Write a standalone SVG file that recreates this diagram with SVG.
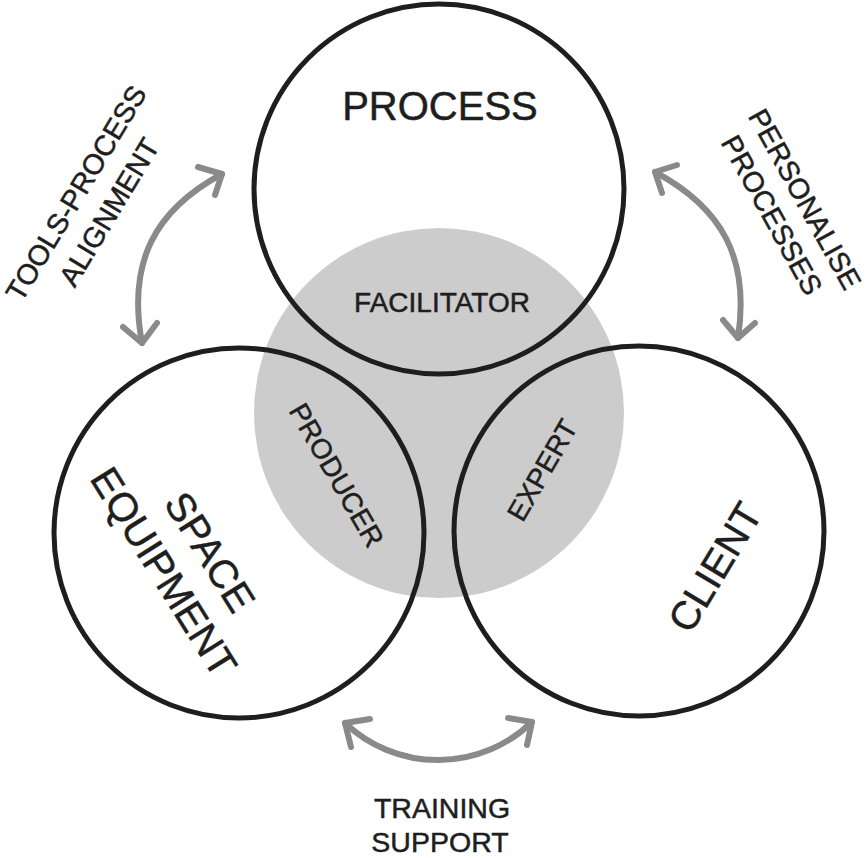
<svg xmlns="http://www.w3.org/2000/svg" width="868" height="858" viewBox="0 0 868 858">
<style>
  .ring { fill: none; stroke: #1e1e1e; stroke-width: 5; }
  .core { fill: #cccccc; }
  .arrow { fill: none; stroke: #8a8a8a; stroke-width: 6; stroke-linecap: round; stroke-linejoin: round; }
  text { font-family: "Liberation Sans", Arial, sans-serif; fill: #1e1e1e; stroke: #1e1e1e; stroke-width: 0.5; text-anchor: middle; }
  .big { font-size: 40px; }
  .mid { font-size: 28.5px; }
  .small { font-size: 28px; }
</style>
<rect width="868" height="858" fill="#ffffff"/>
<g id="core">
  <circle class="core" cx="439" cy="413" r="185"/>
  <text class="small" x="442" y="312">FACILITATOR</text>
  <text class="small" transform="translate(337,475) rotate(60)" x="0" y="10">PRODUCER</text>
  <text class="small" transform="translate(542,470) rotate(-60)" x="0" y="10">EXPERT</text>
</g>
<g id="process">
  <circle class="ring" cx="439" cy="189" r="185"/>
  <text class="big" x="440" y="120">PROCESS</text>
</g>
<g id="space-equipment">
  <circle class="ring" cx="239" cy="533" r="185"/>
  <text class="big" transform="translate(210,552) rotate(58)" x="0" y="14">SPACE</text>
  <text class="big" transform="translate(164,572) rotate(58)" x="0" y="14">EQUIPMENT</text>
</g>
<g id="client">
  <circle class="ring" cx="639" cy="531" r="185"/>
  <text class="big" transform="translate(715,567) rotate(-59)" x="0" y="14">CLIENT</text>
</g>
<g id="connectors">
  <g id="tools-process">
    <path class="arrow" d="M222 174 C155 210 127 262 142 343"/>
    <polyline class="arrow" points="198,167 222,174 215,195"/>
    <polyline class="arrow" points="123,327 142,343 157,323"/>
  </g>
  <g id="personalise">
    <path class="arrow" d="M655 172 C722 208 750 258 738 338"/>
    <polyline class="arrow" points="677,165 655,172 662,193"/>
    <polyline class="arrow" points="723,320 738,338 755,323"/>
  </g>
  <g id="training">
    <path class="arrow" d="M345 723 A135 135 0 0 0 532 722"/>
    <polyline class="arrow" points="370,719 345,723 351,747"/>
    <polyline class="arrow" points="508,718 532,722 527,745"/>
  </g>
</g>
<g id="labels">
  <text class="mid" transform="translate(76,193) rotate(-59)" x="0" y="10">TOOLS-PROCESS</text>
  <text class="mid" transform="translate(109,212) rotate(-59)" x="0" y="10">ALIGNMENT</text>
  <text class="mid" transform="translate(805,199) rotate(61)" x="0" y="10">PERSONALISE</text>
  <text class="mid" transform="translate(772,215) rotate(61)" x="0" y="10">PROCESSES</text>
  <text class="mid" x="442" y="818">TRAINING</text>
  <text class="mid" x="440" y="852">SUPPORT</text>
</g>
</svg>
